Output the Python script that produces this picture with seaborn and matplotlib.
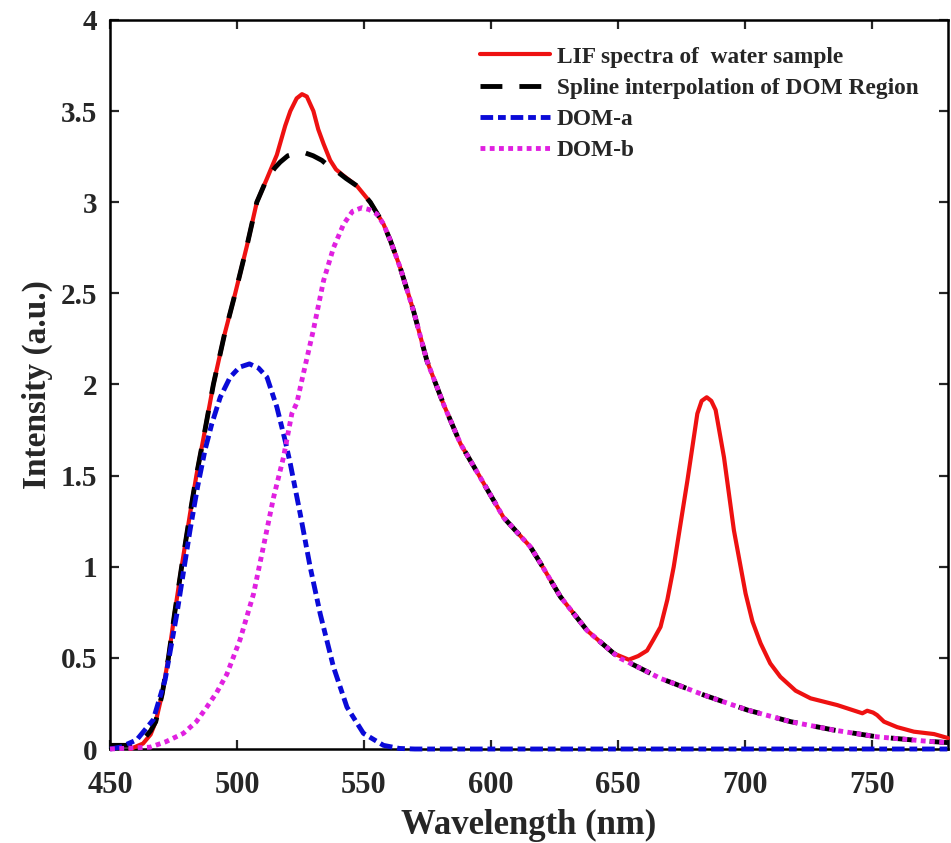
import numpy as np
import pandas as pd
import matplotlib
matplotlib.use("Agg")
import matplotlib.pyplot as plt
import seaborn as sns

# --- Data (wavelength in nm, intensity in a.u.) ---
# rising edge shared by the LIF spectrum and the spline
rise_wl = [468, 470.5, 473, 475.5, 478.2, 481.5, 484, 487, 490.7, 495, 499.3, 503.9, 507.8, 511.8]
rise_int = [0.15, 0.30, 0.50, 0.75, 1.00, 1.29, 1.50, 1.72, 2.00, 2.27, 2.50, 2.76, 3.00, 3.13]

# LIF peak region (red only)
lif_peak_wl = [515.7, 519, 521, 523.5, 525.6, 527.5, 530.1, 532, 534.1, 536.7, 539, 542]
lif_peak_int = [3.26, 3.42, 3.50, 3.57, 3.593, 3.58, 3.50, 3.40, 3.32, 3.23, 3.18, 3.145]

# spline over the same region (black only)
spl_peak_wl = [515, 517, 520, 523.6, 527, 530, 533.4, 536, 539.3, 543]
spl_peak_int = [3.19, 3.22, 3.255, 3.27, 3.27, 3.255, 3.23, 3.20, 3.17, 3.13]

# shoulder + descending part shared by LIF, spline and DOM-b
desc_wl = [547.2, 552.5, 557.7, 560.4, 564.3, 569.5, 574.8, 581.4, 588, 595.8, 605,
           615.5, 619.5, 627.4, 637.9, 648.4]
desc_int = [3.09, 3.00, 2.88, 2.79, 2.64, 2.405, 2.13, 1.89, 1.675, 1.49, 1.27,
            1.11, 1.02, 0.835, 0.65, 0.524]

# chlorophyll peak and tail of the LIF spectrum
lif_tail_wl = [654.3, 658, 661.5, 664, 666.8, 669.5, 672, 675.3, 677.4, 681.3, 683, 685,
               686.8, 688.5, 691.8, 695.7, 700.3, 703, 706.2, 710, 714, 720, 725.9,
               736.4, 746.3, 748.2, 750.5, 752.1, 754.8, 760, 766.6, 774.5, 780]
lif_tail_int = [0.49, 0.51, 0.54, 0.60, 0.67, 0.82, 1.00, 1.29, 1.474, 1.84, 1.91, 1.93,
                1.91, 1.86, 1.60, 1.20, 0.853, 0.70, 0.58, 0.47, 0.396, 0.32, 0.278,
                0.241, 0.196, 0.21, 0.20, 0.186, 0.15, 0.12, 0.095, 0.082, 0.06]

# smooth DOM tail (spline and DOM-b)
dom_tail_wl = [651, 655, 660, 666.8, 672, 683.9, 701, 718, 735, 752, 770.6, 780]
dom_tail_int = [0.497, 0.47, 0.435, 0.387, 0.36, 0.296, 0.214, 0.15, 0.104, 0.067, 0.044, 0.035]

lif_start_wl = [458, 463, 466]
lif_start_int = [0.0, 0.03, 0.08]
spl_start_wl = [450, 457, 460, 463, 466]
spl_start_int = [0.02, 0.02, 0.03, 0.05, 0.10]

dom_a_wl = [450, 454, 460.5, 467, 471.7, 476.3, 481.5, 484.5, 487.4, 490.1, 493.4, 497.3,
            501, 504.9, 508.5, 511.8, 515.7, 519, 521, 524.9, 528.8, 532.8, 538, 543.3,
            549.8, 557.7, 564, 570, 600, 650, 700, 750, 780]
dom_a_int = [0.0, 0.01, 0.05, 0.16, 0.38, 0.74, 1.20, 1.44, 1.64, 1.785, 1.93, 2.04,
             2.095, 2.113, 2.09, 2.04, 1.876, 1.69, 1.565, 1.29, 1.00, 0.74, 0.45, 0.23,
             0.086, 0.02, 0.003, 0.0, 0.0, 0.0, 0.0, 0.0, 0.0]

dom_b_wl = [450, 465.8, 472, 478.9, 484, 488.1, 492, 496, 501.2, 506.5, 510.4, 514.4,
            518.3, 521.6, 523.6, 525.5, 530.1, 534.1, 538, 542, 545.5, 549.2, 552, 555.1]
dom_b_int = [0.0, 0.01, 0.04, 0.086, 0.15, 0.23, 0.31, 0.41, 0.60, 0.85, 1.11, 1.38,
             1.60, 1.84, 1.90, 2.02, 2.30, 2.57, 2.75, 2.88, 2.95, 2.97, 2.96, 2.935]

labels = ["LIF spectra of  water sample", "Spline interpolation of DOM Region",
          "DOM-a", "DOM-b"]

# assemble the four series
lif_wl = lif_start_wl + rise_wl + lif_peak_wl + desc_wl + lif_tail_wl
lif_int = lif_start_int + rise_int + lif_peak_int + desc_int + lif_tail_int
spl_wl = spl_start_wl + rise_wl + spl_peak_wl + desc_wl + dom_tail_wl
spl_int = spl_start_int + rise_int + spl_peak_int + desc_int + dom_tail_int
domb_wl = dom_b_wl + desc_wl[2:] + dom_tail_wl
domb_int = dom_b_int + desc_int[2:] + dom_tail_int

series = [
    (lif_wl, lif_int, "#ee1111", "-", 3.0),
    (spl_wl, spl_int, "black", (0, (4.5, 3.5)), 3.5),
    (dom_a_wl, dom_a_int, "#0a0ad8", (0, (2.6, 1.0, 1.6, 1.0)), 3.5),
    (domb_wl, domb_int, "#e020e0", (0, (1, 0.9)), 3.5),
]

# --- Plot ---
sns.set_theme(style="ticks")
plt.rcParams["font.family"] = ["Liberation Serif", "DejaVu Serif"]
plt.rcParams["font.weight"] = "bold"

fig = plt.figure(figsize=(9.51, 8.43), dpi=100)
ax = fig.add_axes([0.1157, 0.1115, 0.8811, 0.8648])

for (wl, inten, col, ls, lw), lab in zip(series, labels):
    df = pd.DataFrame({"Wavelength": wl, "Intensity": inten})
    sns.lineplot(data=df, x="Wavelength", y="Intensity", ax=ax, color=col,
                 linestyle=ls, linewidth=lw, label=lab, estimator=None,
                 clip_on=False, zorder=3)

ax.set_xlim(450, 780)
ax.set_ylim(0, 4)
ax.set_xticks(np.arange(450, 751, 50))
ax.set_yticks(np.arange(0, 4.01, 0.5))
ax.set_yticklabels(["0", "0.5", "1", "1.5", "2", "2.5", "3", "3.5", "4"])
ax.tick_params(direction="in", length=6.5, width=1.6, top=True, right=True,
               labeltop=False, labelright=False)
ax.tick_params(axis="y", labelsize=21, pad=9)
ax.tick_params(axis="x", labelsize=22, pad=16)
for t in ax.get_xticklabels() + ax.get_yticklabels():
    t.set_fontweight("bold")
for sp in ax.spines.values():
    sp.set_linewidth(1.8)
    sp.set_color("black")

ax.set_xlabel("Wavelength (nm)", fontsize=25, fontweight="bold", labelpad=6)
ax.set_ylabel("Intensity (a.u.)", fontsize=24, fontweight="bold", labelpad=6)

leg = ax.legend(loc="upper left", bbox_to_anchor=(0.441, 0.964), frameon=False,
                prop={"size": 16.8, "weight": "bold"}, handlelength=3.0,
                handletextpad=0.3, labelspacing=0.42, borderpad=0, borderaxespad=0)

fig.savefig("out.png", dpi=100)
